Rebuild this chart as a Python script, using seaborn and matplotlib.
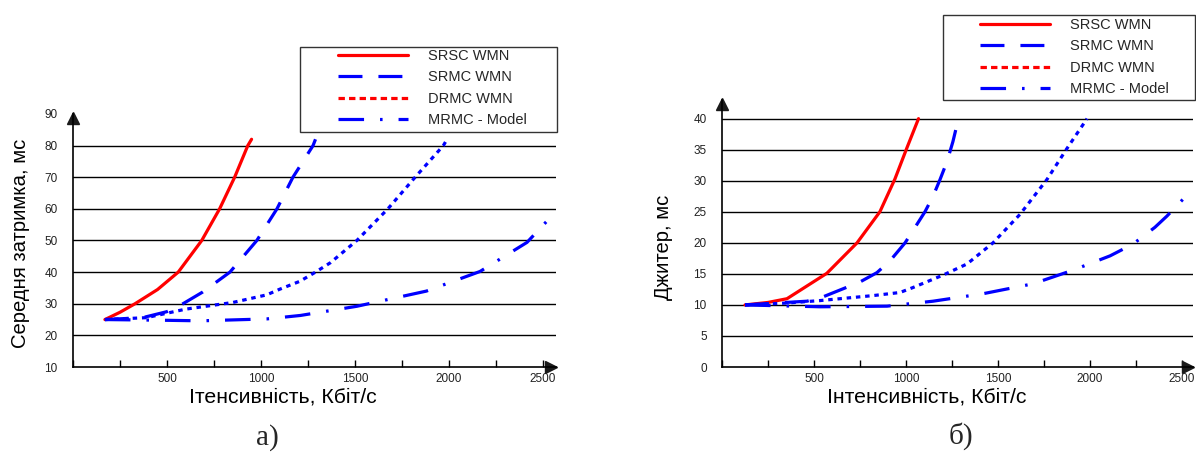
import pandas as pd
import matplotlib
matplotlib.use("Agg")
import matplotlib.pyplot as plt
from matplotlib.lines import Line2D
from matplotlib.patches import Rectangle
from matplotlib.ticker import MultipleLocator, FixedLocator
from matplotlib.transforms import offset_copy
import seaborn as sns

series_names = ["SRSC WMN", "SRMC WMN", "DRMC WMN", "MRMC - Model"]

# --- а) середня затримка, мс ---
srsc_a_x = [170, 250, 330, 450, 560, 685, 780, 860, 930, 950]
srsc_a_y = [25, 27.3, 30, 34.5, 40, 50, 60, 70, 80, 82]
srmc_a_x = [170, 370, 500, 585, 690, 835, 978, 1085, 1170, 1277, 1290]
srmc_a_y = [25, 25.6, 27.5, 30, 33.7, 40, 50, 60, 70, 80, 82]
drmc_a_x = [170, 390, 600, 850, 1030, 1100, 1207, 1290, 1370, 1510, 1675, 1820, 1970, 1985]
drmc_a_y = [25, 25.6, 28.3, 30.4, 32.8, 34.6, 37.1, 40, 43, 50, 60, 70, 80, 81.5]
mrmc_a_x = [170, 460, 680, 1030, 1210, 1510, 1880, 2165, 2415, 2560]
mrmc_a_y = [25, 24.8, 24.6, 25.2, 26.3, 29.2, 34, 40.2, 49.4, 58.6]
delay_ticks = [10, 20, 30, 40, 50, 60, 70, 80, 90]

# --- б) джитер, мс ---
srsc_b_x = [125, 250, 353, 570, 734, 858, 940, 1005, 1068]
srsc_b_y = [10, 10.4, 11, 15.1, 20, 25, 30.3, 35.3, 40]
srmc_b_x = [125, 462, 549, 750, 842, 913, 995, 1060, 1103, 1147, 1185, 1223, 1255, 1285]
srmc_b_y = [10, 10.6, 11.3, 13.7, 15.2, 17.1, 20, 23, 25, 27.5, 30.2, 33.1, 36.3, 40]
drmc_b_x = [125, 353, 533, 820, 967, 1038, 1201, 1332, 1473, 1620, 1766, 1875, 1984]
drmc_b_y = [10, 10.3, 10.7, 11.5, 12.0, 12.8, 14.8, 16.6, 20, 24.6, 30.2, 35.2, 40]
mrmc_b_x = [125, 533, 897, 1022, 1147, 1418, 1690, 1908, 2109, 2234, 2353, 2418, 2505, 2543]
mrmc_b_y = [10, 9.7, 9.8, 10.2, 10.6, 11.8, 13.4, 15.6, 17.9, 19.8, 22.5, 24.3, 27, 29]
jitter_ticks = [0, 5, 10, 15, 20, 25, 30, 35, 40]

x_major = [500, 1000, 1500, 2000, 2500]


def long_frame(xs, ys):
    parts = [pd.DataFrame({"x": x, "y": y, "series": n}) for n, x, y in zip(series_names, xs, ys)]
    return pd.concat(parts, ignore_index=True)


df_a = long_frame([srsc_a_x, srmc_a_x, drmc_a_x, mrmc_a_x], [srsc_a_y, srmc_a_y, drmc_a_y, mrmc_a_y])
df_b = long_frame([srsc_b_x, srmc_b_x, drmc_b_x, mrmc_b_x], [srsc_b_y, srmc_b_y, drmc_b_y, mrmc_b_y])

sns.set_theme(style="white")
plt.rcParams['font.family'] = ['Liberation Sans', 'DejaVu Sans']

RED, BLUE = "#ff0000", "#0000ff"
palette = {"SRSC WMN": RED, "SRMC WMN": BLUE, "DRMC WMN": BLUE, "MRMC - Model": BLUE}
dashes = {"SRSC WMN": "", "SRMC WMN": (7.5, 5), "DRMC WMN": (1.4, 1.5), "MRMC - Model": (8, 5, 0.8, 5)}

fig = plt.figure(figsize=(11.96, 4.54), dpi=100)
ax_a = fig.add_axes([0.061, 0.1916, 0.404, 0.5574])
ax_b = fig.add_axes([0.6037, 0.1916, 0.3938, 0.5881])

panels = [
    (ax_a, df_a, (0, 2570), (10, 90), delay_ticks, "Середня затримка, мс", "Ітенсивність, Кбіт/с",
     (-0.089, 0.488), (0.435, -0.079)),
    (ax_b, df_b, (0, 2560), (0, 43), jitter_ticks, "Джитер, мс", "Інтенсивність, Кбіт/с",
     (-0.104, 0.447), (0.435, -0.075)),
]

for ax, df, xlim, ylim, yticks, ylab, xlab, ylab_pos, xlab_pos in panels:
    # horizontal grid lines
    for v in yticks[1:]:
        if v < ylim[1] - 1e-9 and v != 90:
            ax.axhline(v, color="black", lw=1.0, zorder=1)
    sns.lineplot(data=df, x="x", y="y", hue="series", style="series", palette=palette,
                 dashes=dashes, lw=2.3, legend=False, ax=ax, zorder=3)
    ax.set_xlim(*xlim)
    ax.set_ylim(*ylim)
    ax.yaxis.set_major_locator(FixedLocator(yticks))
    ax.xaxis.set_major_locator(FixedLocator(x_major))
    ax.xaxis.set_minor_locator(MultipleLocator(250))
    ax.tick_params(axis="y", length=0, pad=11, labelsize=8.5, labelcolor="#222222")
    ax.tick_params(axis="x", which="both", direction="in", length=5, width=1, color="black",
                   pad=4, labelsize=8.5, labelcolor="#222222", bottom=True)
    for s in ["top", "right"]:
        ax.spines[s].set_visible(False)
    for s in ["left", "bottom"]:
        ax.spines[s].set_color("black")
        ax.spines[s].set_linewidth(1.2)
    ax.plot(1, 0, ">k", transform=offset_copy(ax.transAxes, fig, x=-5, units="dots"),
            clip_on=False, markersize=9)
    ax.plot(0, 1, "^k", transform=offset_copy(ax.transAxes, fig, y=-4, units="dots"),
            clip_on=False, markersize=9)
    ax.set_xlabel(xlab, fontsize=15.3, color="black")
    ax.set_ylabel(ylab, fontsize=14.6, color="black")
    ax.xaxis.set_label_coords(*xlab_pos)
    ax.yaxis.set_label_coords(*ylab_pos)

handles = [
    Line2D([], [], color=RED, lw=2.3),
    Line2D([], [], color=BLUE, lw=2.3, dashes=(7.5, 5)),
    Line2D([], [], color=RED, lw=2.3, dashes=(2, 1.3)),
    Line2D([], [], color=BLUE, lw=2.3, dashes=(8, 5, 0.8, 5)),
]

for box, anchor in [((300, 47, 257, 85), (338, 88)), ((943, 15, 252, 85), (980, 57))]:
    bx, by, bw, bh = box
    fig.patches.append(Rectangle((bx / 1196, 1 - (by + bh) / 454), bw / 1196, bh / 454,
                                 transform=fig.transFigure, fill=False, edgecolor="#333333", lw=1.0))
    fig.legend(handles, series_names, loc="center left",
               bbox_to_anchor=(anchor[0] / 1196, 1 - anchor[1] / 454), bbox_transform=fig.transFigure,
               frameon=False, borderpad=0, borderaxespad=0, handlelength=4.8, handletextpad=1.35,
               labelspacing=0.52, fontsize=10.5)

fig.text(267 / 1196, 1 - 438 / 454, "а)", ha="center", va="center", fontsize=21,
         family=["Liberation Serif", "DejaVu Serif"])
fig.text(961 / 1196, 1 - 436 / 454, "б)", ha="center", va="center", fontsize=21,
         family=["Liberation Serif", "DejaVu Serif"])

fig.savefig("out.png", dpi=100)
